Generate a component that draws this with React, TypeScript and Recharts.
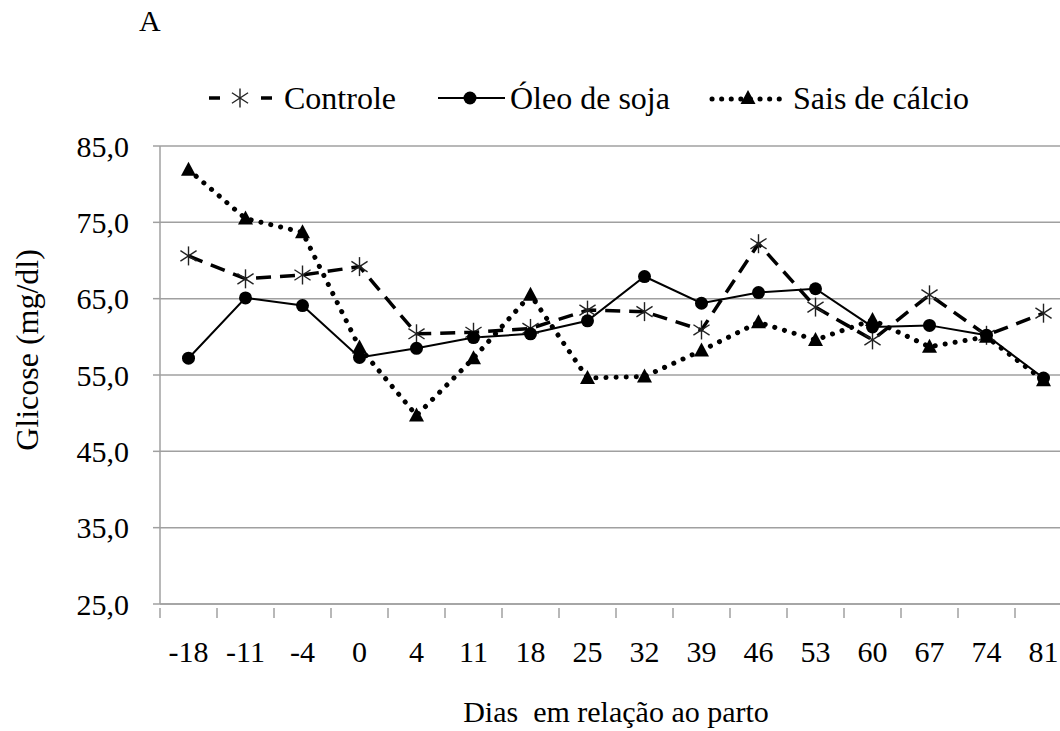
import React from 'react';
import { LineChart, Line, XAxis, YAxis, CartesianGrid, Legend } from 'recharts';

const dias = ['-18', '-11', '-4', '0', '4', '11', '18', '25', '32', '39', '46', '53', '60', '67', '74', '81'];
const controle = [70.6, 67.6, 68.1, 69.2, 60.4, 60.6, 61.1, 63.5, 63.3, 60.9, 72.2, 63.9, 59.6, 65.5, 60.2, 63.1];
const oleoSoja = [57.2, 65.1, 64.1, 57.3, 58.5, 59.9, 60.4, 62.1, 67.9, 64.4, 65.8, 66.3, 61.3, 61.5, 60.2, 54.6];
const saisCalcio = [81.9, 75.5, 73.7, 58.6, 49.7, 57.2, 65.5, 54.6, 54.8, 58.2, 61.9, 59.6, 62.2, 58.7, 60.0, 54.3];
const yTicks = [25, 35, 45, 55, 65, 75, 85];

const data = dias.map((d, i) => ({
  dia: d,
  controle: controle[i],
  oleo: oleoSoja[i],
  sais: saisCalcio[i],
}));

const FONT = '"Liberation Serif", "Times New Roman", Times, serif';
const GRID = '#a0a0a0';
const W = 1080;
const H = 731;
const PLOT_LEFT = 160;
const PLOT_RIGHT = 8;
const BAND = (W - PLOT_LEFT - PLOT_RIGHT) / dias.length;

// asterisk marker: vertical bar plus two diagonals
const Star = ({ cx, cy }: any) => {
  if (cx == null || cy == null) return null;
  const r = 9.5;
  const dx = r * 0.85;
  const dy = r * 0.55;
  return (
    <g stroke="#222" strokeWidth={1.4}>
      <line x1={cx} y1={cy - r} x2={cx} y2={cy + r} />
      <line x1={cx - dx} y1={cy - dy} x2={cx + dx} y2={cy + dy} />
      <line x1={cx - dx} y1={cy + dy} x2={cx + dx} y2={cy - dy} />
    </g>
  );
};

const Dot = ({ cx, cy }: any) => {
  if (cx == null || cy == null) return null;
  return <circle cx={cx} cy={cy} r={6.5} fill="#000" />;
};

const Tri = ({ cx, cy }: any) => {
  if (cx == null || cy == null) return null;
  return <path d={`M${cx},${cy - 8} L${cx + 7.5},${cy + 6} L${cx - 7.5},${cy + 6} Z`} fill="#000" />;
};

const XTick = (props: any) => {
  const { x, y, payload, index } = props;
  const axisY = y - 4;
  return (
    <g>
      {index === 0 && <line x1={x - BAND / 2} y1={axisY} x2={x - BAND / 2} y2={axisY + 10} stroke={GRID} strokeWidth={1.5} />}
      <line x1={x + BAND / 2} y1={axisY} x2={x + BAND / 2} y2={axisY + 10} stroke={GRID} strokeWidth={1.5} />
      <text x={x} y={axisY + 54} textAnchor="middle" fontSize={30} fontFamily={FONT} fill="#000">
        {payload.value}
      </text>
    </g>
  );
};

const LegendContent = () => {
  const item = (left: number, iconW: number, icon: React.ReactNode, label: string) => (
    <div style={{ position: 'absolute', left, top: 0, display: 'flex', alignItems: 'center', height: 40 }}>
      <svg width={iconW} height={30} style={{ overflow: 'visible' }}>
        {icon}
      </svg>
      <span style={{ fontFamily: FONT, fontSize: 32, color: '#000', marginLeft: 5, whiteSpace: 'nowrap' }}>{label}</span>
    </div>
  );
  return (
    <div style={{ position: 'relative', width: 1060, height: 40 }}>
      {item(
        209,
        70,
        <g>
          <line x1={0} y1={15} x2={11} y2={15} stroke="#000" strokeWidth={3.5} />
          <line x1={52} y1={15} x2={63} y2={15} stroke="#000" strokeWidth={3.5} />
          <Star cx={31} cy={15} />
        </g>,
        'Controle'
      )}
      {item(
        438,
        67,
        <g>
          <line x1={0} y1={15} x2={67} y2={15} stroke="#000" strokeWidth={2} />
          <Dot cx={32} cy={15} />
        </g>,
        'Óleo de soja'
      )}
      {item(
        710,
        78,
        <g>
          <line x1={2} y1={16} x2={76} y2={16} stroke="#000" strokeWidth={5} strokeDasharray="0.1 9.5" strokeLinecap="round" />
          <Tri cx={38} cy={15} />
        </g>,
        'Sais de cálcio'
      )}
    </div>
  );
};

export default function App() {
  return (
    <div style={{ position: 'fixed', left: 0, top: 0, width: 1060, height: 731, overflow: 'hidden', background: '#fff' }}>
      <div style={{ position: 'absolute', left: 139, top: 6, fontFamily: FONT, fontSize: 30, lineHeight: 1, color: '#000' }}>A</div>
      <LineChart width={W} height={H} data={data} margin={{ top: 146, right: PLOT_RIGHT, bottom: 27, left: 0 }}>
        <CartesianGrid vertical={false} stroke={GRID} strokeWidth={1.5} />
        <XAxis
          dataKey="dia"
          scale="band"
          height={100}
          stroke={GRID}
          strokeWidth={1.5}
          tickLine={false}
          tick={<XTick />}
          interval={0}
          label={{
            content: () => (
              <text x={616} y={722} textAnchor="middle" fontSize={30} fontFamily={FONT} fill="#000" xmlSpace="preserve">
                {'Dias  em relação ao parto'}
              </text>
            ),
          }}
        />
        <YAxis
          width={PLOT_LEFT}
          domain={[25, 85]}
          ticks={yTicks}
          interval={0}
          stroke={GRID}
          strokeWidth={1.5}
          tickSize={7}
          tickMargin={24}
          tick={{ fontSize: 30, fontFamily: FONT, fill: '#000' }}
          tickFormatter={(v: number) => v.toFixed(1).replace('.', ',')}
          label={{
            content: () => (
              <text
                x={38}
                y={350}
                textAnchor="middle"
                fontSize={32}
                fontFamily={FONT}
                fill="#000"
                transform="rotate(-90, 38, 350)"
              >
                Glicose (mg/dl)
              </text>
            ),
          }}
        />
        <Legend
          verticalAlign="middle"
          align="center"
          layout="horizontal"
          content={<LegendContent />}
          wrapperStyle={{ top: 78, left: 0, width: 1060, height: 40 }}
        />
        <Line
          dataKey="controle"
          name="Controle"
          stroke="#000"
          strokeWidth={3.5}
          strokeDasharray="15 9"
          dot={<Star />}
          activeDot={false}
          isAnimationActive={false}
        />
        <Line
          dataKey="oleo"
          name="Óleo de soja"
          stroke="#000"
          strokeWidth={2}
          dot={<Dot />}
          activeDot={false}
          isAnimationActive={false}
        />
        <Line
          dataKey="sais"
          name="Sais de cálcio"
          stroke="#000"
          strokeWidth={5}
          strokeDasharray="0.1 10"
          strokeLinecap="round"
          dot={<Tri />}
          activeDot={false}
          isAnimationActive={false}
        />
      </LineChart>
    </div>
  );
}
